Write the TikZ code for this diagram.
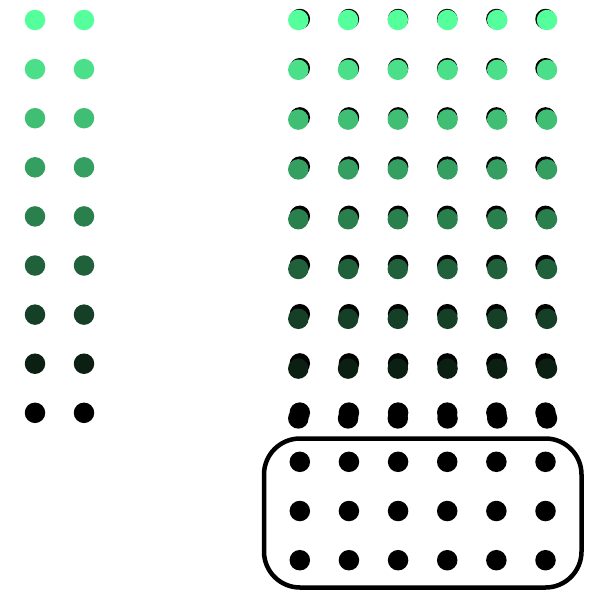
\documentclass[tikz,border=0pt]{standalone}
\definecolor{mint}{RGB}{85,255,155}
\begin{document}
\begin{tikzpicture}[x=1pt, y=-1pt, dot/.style={circle, inner sep=0pt, minimum size=20.5pt}]
  \useasboundingbox (0,0) rectangle (596,592);
  % left pair of columns, fading to black
  \foreach \r in {0,...,8} {
    \pgfmathsetmacro\shade{100-12.5*\r}
    \foreach \c in {0,1} {
      \node[dot, fill=mint!\shade!black] (l-\r-\c) at (35+49*\c, 20+49.1*\r) {};
    }
  }
  % right block: black grid underneath
  \foreach \r in {0,...,11} {
    \foreach \c in {0,...,5} {
      \node[dot, fill=black] (b-\r-\c) at (299.8+49.14*\c, 19+49.2*\r) {};
    }
  }
  % coloured grid on top, slightly spread out
  \foreach \r in {0,...,8} {
    \pgfmathsetmacro\shade{100-12.5*\r}
    \foreach \c in {0,...,5} {
      \node[dot, fill=mint!\shade!black] (g-\r-\c) at (298.3+49.74*\c, 20+49.8*\r) {};
    }
  }
  % frame round the last three rows
  \draw[line width=4.5pt, rounded corners=36pt] (264,438.5) rectangle (581.5,587.5);
\end{tikzpicture}
\end{document}
